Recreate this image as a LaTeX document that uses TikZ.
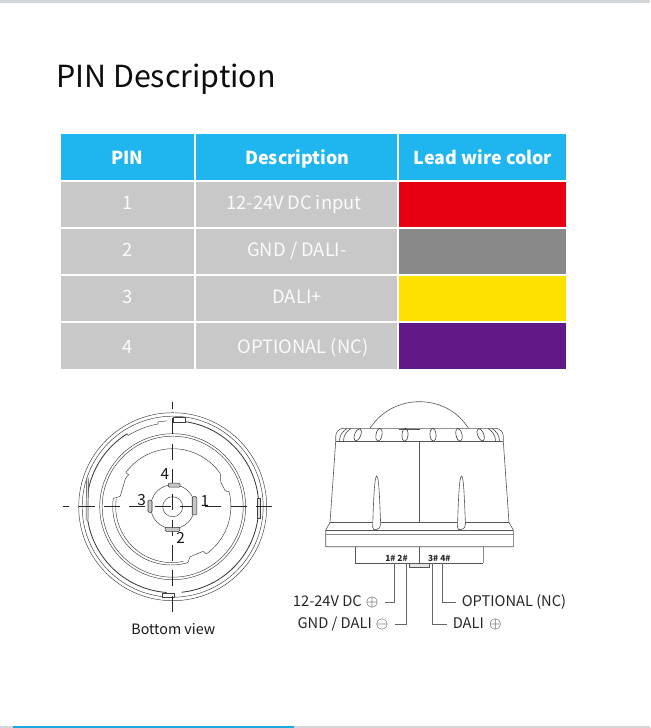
\documentclass[tikz,border=0pt]{standalone}
\usepackage{fontspec}
\setmainfont{Noto Sans CJK SC}
\definecolor{headblue}{HTML}{1FB6F0}
\definecolor{rowgrey}{HTML}{C8C8C8}
\definecolor{wred}{HTML}{E60012}
\definecolor{wgrey}{HTML}{898989}
\definecolor{wyellow}{HTML}{FFE100}
\definecolor{wpurple}{HTML}{601986}
\definecolor{linegrey}{HTML}{555555}
\definecolor{barblue}{HTML}{1CA9E0}
\definecolor{bargrey}{HTML}{D3D6D8}
\newcommand{\cellbox}[9]{%
  \path[fill=#6] (#2,#3) rectangle (#4,#5);
  \node[#7] (#1) at (#8,#9) {\cellcontent};}
\newcommand{\cellcontent}{}
\tikzset{
  head style/.style={font=\fontsize{13.4}{16}\selectfont\bfseries,text=white,inner sep=0pt,anchor=base},
  body style/.style={font=\fontsize{13.8}{16}\selectfont,text=white!92!rowgrey,inner sep=0pt,anchor=base},
  thin line/.style={draw=linegrey,line width=0.45pt},
  view line/.style={draw=black!75,line width=0.35pt},
  heavy line/.style={draw=black!80,line width=0.6pt},
  wire/.style={draw=black!60,line width=0.6pt},
  side label/.style={font=\fontsize{11}{12}\selectfont,text=black!85,inner ysep=0pt,inner xsep=4.5pt},
  pin label/.style={font=\fontsize{11.5}{12}\selectfont,text=black!90,inner sep=0pt},
  pad/.style={draw=black!80,fill=black!22,line width=0.4pt,rounded corners=0.8pt},
  crosshair/.style={draw=black!85,line width=0.5pt,dash pattern=on 12pt off 7pt,dash phase=7pt},
  slot/.style={draw=black!75,line width=0.45pt}
}
\begin{document}
\begin{tikzpicture}[x=0.75pt,y=-0.75pt]
\useasboundingbox (0,0) rectangle (650,728);
\fill[white] (0,0) rectangle (650,728);
% page edges
\fill[bargrey] (0,0) rectangle (650,3);
\fill[bargrey] (0,726) rectangle (650,728);
\fill[barblue] (13,726) rectangle (294,728);
% title
\node[anchor=west,inner sep=0pt,font=\fontsize{22.8}{26}\selectfont,text=black!95] (title) at (56,79) {PIN Description};
% table
\renewcommand{\cellcontent}{PIN}\cellbox{h1}{61}{134}{194}{180}{headblue}{head style}{127.5}{164.5}
\renewcommand{\cellcontent}{Description}\cellbox{h2}{196}{134}{397}{180}{headblue}{head style}{297.5}{164.5}
\renewcommand{\cellcontent}{Lead wire color}\cellbox{h3}{399}{134}{566}{180}{headblue}{head style}{483}{164.5}
\renewcommand{\cellcontent}{1}\cellbox{p1}{61}{182}{194}{227}{rowgrey}{body style}{127.5}{209.7}
\renewcommand{\cellcontent}{12-24V\kern-0.5pt{} DC input}\cellbox{d1}{196}{182}{397}{227}{rowgrey}{body style}{294}{209.7}
\fill[wred] (399,182) rectangle (566,227);
\renewcommand{\cellcontent}{2}\cellbox{p2}{61}{229}{194}{274}{rowgrey}{body style}{127.5}{256.7}
\renewcommand{\cellcontent}{GND / DALI-}\cellbox{d2}{196}{229}{397}{274}{rowgrey}{body style}{297}{256.7}
\fill[wgrey] (399,229) rectangle (566,274);
\renewcommand{\cellcontent}{3}\cellbox{p3}{61}{276}{194}{321}{rowgrey}{body style}{127.5}{303.7}
\renewcommand{\cellcontent}{DALI+}\cellbox{d3}{196}{276}{397}{321}{rowgrey}{body style}{297}{303.7}
\fill[wyellow] (399,276) rectangle (566,321);
\renewcommand{\cellcontent}{4}\cellbox{p4}{61}{323}{194}{369}{rowgrey}{body style}{127.5}{353.5}
\renewcommand{\cellcontent}{OPTIONAL (NC)}\cellbox{d4}{196}{323}{397}{369}{rowgrey}{body style}{303}{353.5}
\fill[wpurple] (399,323) rectangle (566,369);
% bottom view
\begin{scope}[shift={(172.7,506.7)},yscale=-1]
  \draw[view line] (0,0) circle[radius=94];
  \draw[view line] (0,0) circle[radius=90.5];
  \draw[heavy line] (266:86) arc[start angle=266,end angle=122,radius=86];
  \draw[view line] (122:86) -- (122:84) arc[start angle=122,end angle=100,radius=84] -- (100:86) arc[start angle=100,end angle=94,radius=86];
  \draw[heavy line] (84:86) arc[start angle=84,end angle=-84,radius=86];
  \draw[view line] (0,0) circle[radius=73];
  \draw[view line] (0,0) circle[radius=70.5];
  \draw[view line] (144:58) -- (144:54.5) -- (149:55) -- (169:53.6) -- (172:60)
     arc[start angle=172,end angle=286,radius=58.5] -- (-74:57) -- (-71:53) -- (-55.7:54) -- (-54.5:58)
     arc[start angle=-54.5,end angle=14.6,radius=58.5] -- (16.5:55) -- (27:54) -- (35:58)
     arc[start angle=35,end angle=144,radius=58];
  \draw[view line] (172:57) arc[start angle=172,end angle=282,radius=56];
  \draw[view line] (0,0) circle[radius=22];
  \draw[view line] (0,0) circle[radius=10];
\end{scope}
\draw[view line,fill=white] (173.3,417.7) rectangle (185,422.7);
\draw[view line,fill=white] (162.7,593.3) rectangle (174.3,597.3);
\draw[view line,fill=black!12] (86.5,478) -- (88.5,478) -- (88,520) -- (86,520) -- cycle;
\draw[view line,fill=black!12] (257.5,498) rectangle (260,518);
\draw[crosshair] (62.7,506.7) -- (276.7,506.7);
\draw[crosshair] (172.7,402.3) -- (172.7,613.3);
\node[pad,minimum width=8.8pt,minimum height=3pt,inner sep=0pt] (pad4) at (174.2,485.2) {};
\node[pad,minimum width=11pt,minimum height=3pt,inner sep=0pt] (pad2) at (172.5,529.3) {};
\node[pad,minimum width=3pt,minimum height=9.2pt,inner sep=0pt] (pad3) at (150,506.2) {};
\node[pad,minimum width=3.4pt,minimum height=13.7pt,inner sep=0pt] (pad1) at (194.5,505.8) {};
\node[pin label] (n4) at (165,474) {4};
\node[pin label] (n3) at (141.7,500) {3};
\node[pin label] (n1) at (205,501) {1};
\node[pin label] (n2) at (180.7,537.5) {2};
\node[inner sep=0pt,font=\fontsize{10.7}{12}\selectfont,text=black!90] (bv) at (173.3,629) {Bottom view};
% side view
\draw[thin line] (370,428.3) .. controls (382,410) and (401,401.7) .. (419.3,401.7) .. controls (438,401.7) and (457,410) .. (468.5,428.3);
\draw[thin line,rounded corners=6pt] (335.7,441.5) -- (335.7,428.3) -- (503.3,428.3) -- (503.3,441.5);
\draw[thin line] (335.7,441.5) -- (503.3,441.5);
\draw[thin line] (399,428.8) -- (420,428.8);
\draw[thin line] (335.7,441.5) -- (330,522.5) -- (325.7,530) -- (325.7,546.7) -- (513.3,546.7) -- (513.3,530) -- (509,522.5) -- (503.3,441.5);
\draw[thin line] (330,522.5) -- (509,522.5);
\draw[thin line] (325.7,530) -- (513.3,530);
\draw[draw=black!45,line width=0.5pt] (325.7,534) -- (513.3,534);
\draw[thin line] (419.7,441.5) -- (419.7,522.5);
\foreach \xp in {376.7,461.5}{
  \draw[thin line,fill=white] (\xp-4,527) .. controls (\xp-3.5,510) and (\xp-2.5,476) .. (\xp,476)
     .. controls (\xp+2.5,476) and (\xp+3,505) .. (\xp+4,524) .. controls (\xp+4.5,530) and (\xp-4.5,532) .. (\xp-4,527);
}
\foreach \xp/\tl in {357.7/-22,379/-10,405/-4,433/4,459/12,480.7/22}{
  \draw[slot,rotate around={\tl:(\xp,434.8)}] (\xp,434.8) ellipse[x radius=3,y radius=6.6];
}
\foreach \xp in {341,345}{
  \draw[slot] (\xp-1.5,441.5) .. controls (\xp-2,435) and (\xp+3,430) .. (\xp+6,428.6);
}
\foreach \xp in {498,494}{
  \draw[slot] (\xp+1.5,441.5) .. controls (\xp+2,435) and (\xp-3,430) .. (\xp-6,428.6);
}
% terminal box
\draw[thin line] (355.7,546.7) -- (355.7,563.3) -- (483.3,563.3);
\draw[draw=black!45,line width=0.6pt] (483.3,546.7) -- (483.3,563.3);
\draw[thin line] (419.3,546.7) -- (419.3,563.3);
\draw[thin line,fill=black!10] (409.3,563.3) rectangle (429,567.3);
\node[inner sep=0pt,font=\fontsize{6.3}{8}\selectfont\bfseries,text=black!85] (t12) at (396.5,558) {1\# 2\#};
\node[inner sep=0pt,font=\fontsize{6.3}{8}\selectfont\bfseries,text=black!85] (t34) at (439.3,558) {3\# 4\#};
\coordinate (w1) at (394.7,563.3);
\coordinate (w2) at (406,563.3);
\coordinate (w3) at (432.3,563.3);
\coordinate (w4) at (442.3,563.3);
\node[side label,anchor=east] (l1) at (384.5,602) {12-24V DC\hspace{3pt}{\fontsize{12}{12}\selectfont$\oplus$}};
\node[side label,anchor=east] (l2) at (394.5,624) {GND / DALI\hspace{3pt}{\fontsize{12}{12}\selectfont$\ominus$}};
\node[side label,anchor=west] (l4) at (455.5,602) {OPTIONAL (NC)};
\node[side label,anchor=west] (l3) at (446.5,624) {DALI\hspace{4pt}{\fontsize{12}{12}\selectfont$\oplus$}};
\draw[wire] (w1) -- (w1 |- l1.east) -- (l1.east);
\draw[wire] (w2) -- (w2 |- l2.east) -- (l2.east);
\draw[wire] (w3) -- (w3 |- l3.west) -- (l3.west);
\draw[wire] (w4) -- (w4 |- l4.west) -- (l4.west);
\end{tikzpicture}
\end{document}
